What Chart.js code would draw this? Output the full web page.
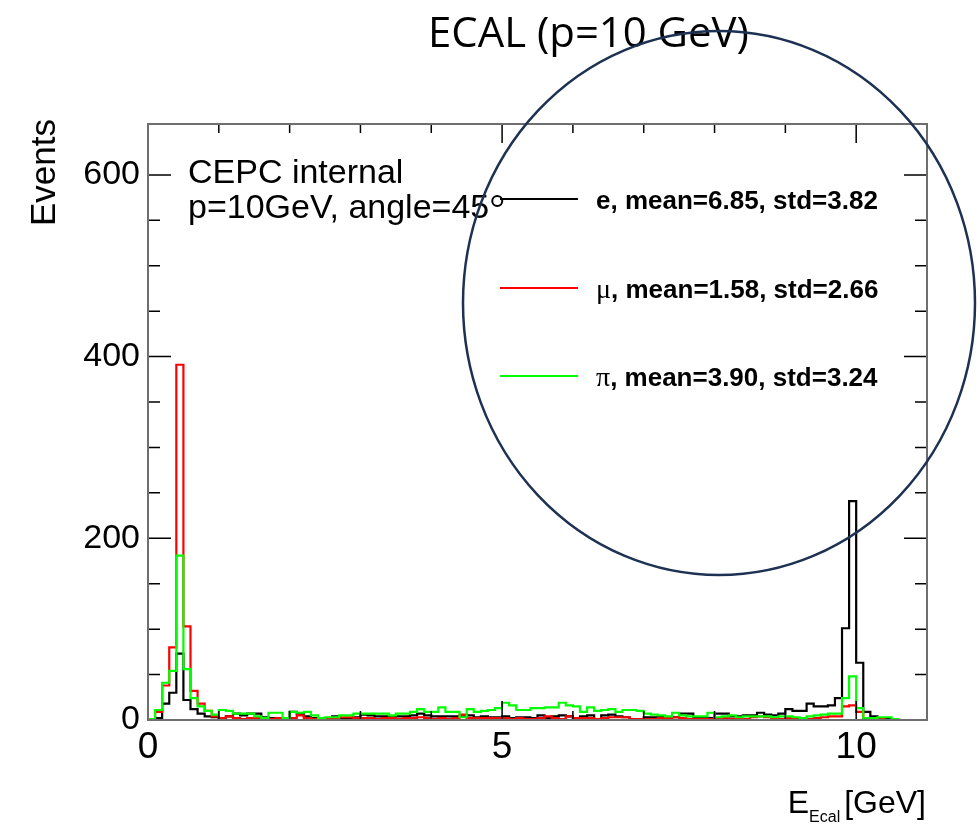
<!DOCTYPE html>
<html>
<head>
<meta charset="utf-8">
<script src="https://cdn.jsdelivr.net/npm/chart.js@4.4.0/dist/chart.umd.min.js"></script>
<style>
  html, body { margin: 0; padding: 0; background: #fff; }
</style>
</head>
<body>
<canvas id="c" width="979" height="828"></canvas>
<script>
"use strict";
// binning of the histograms: 110 bins of 0.1 GeV
var xMin = 0, xMax = 11, binWidth = 0.1;
var yMax = 656;
var xTickLabels = [0, 5, 10];
var yTickLabels = [0, 200, 400, 600];

var eCounts = [
  0, 2, 18, 30, 73, 22, 12, 7, 4, 3,
  2, 4, 7, 5, 7, 7, 3, 2, 2, 2,
  9, 7, 4, 2, 1, 1, 4, 2, 1, 3,
  6, 5, 4, 4, 3, 4, 4, 5, 7, 5,
  4, 4, 4, 4, 4, 5, 3, 4, 3, 3,
  4, 2, 3, 3, 2, 5, 2, 4, 5, 4,
  1, 4, 5, 1, 5, 6, 4, 3, 1, 1,
  3, 3, 4, 2, 3, 7, 7, 3, 2, 2,
  7, 7, 4, 4, 5, 5, 8, 6, 5, 7,
  12, 10, 10, 18, 15, 15, 16, 24, 101, 241,
  63, 9, 4, 2, 1, 0, 0, 0, 0, 0
];
var muCounts = [
  0, 9, 38, 80, 391, 103, 32, 18, 10, 4,
  2, 4, 2, 1, 2, 2, 1, 1, 2, 1,
  2, 5, 2, 1, 1, 2, 2, 3, 3, 2,
  2, 2, 1, 2, 2, 1, 2, 2, 3, 2,
  1, 2, 1, 2, 6, 2, 2, 2, 2, 2,
  2, 1, 2, 1, 1, 2, 4, 2, 1, 4,
  2, 2, 2, 1, 2, 3, 3, 3, 1, 1,
  1, 1, 2, 2, 3, 2, 1, 1, 1, 1,
  2, 2, 1, 1, 1, 3, 4, 3, 2, 1,
  2, 1, 2, 1, 2, 3, 4, 4, 15, 16,
  9, 1, 1, 2, 0, 0, 0, 0, 0, 0
];
var piCounts = [
  1, 11, 41, 54, 181, 56, 24, 15, 10, 6,
  11, 10, 7, 7, 7, 4, 2, 8, 8, 2,
  9, 8, 9, 5, 2, 3, 3, 5, 5, 7,
  7, 7, 7, 7, 5, 7, 7, 9, 12, 9,
  9, 14, 9, 9, 3, 12, 9, 10, 11, 13,
  19, 16, 11, 11, 13, 13, 14, 14, 19, 16,
  15, 9, 14, 10, 11, 12, 9, 11, 11, 10,
  7, 6, 5, 4, 8, 5, 4, 4, 4, 8,
  3, 4, 5, 3, 4, 4, 4, 4, 3, 4,
  4, 3, 2, 4, 5, 6, 7, 7, 24, 48,
  13, 2, 2, 3, 3, 1, 0, 0, 0, 0
];

var seriesLabels = ['e, mean=6.85, std=3.82', 'μ, mean=1.58, std=2.66', 'π, mean=3.90, std=3.24'];
var seriesColors = ['#000000', '#ff0000', '#00ff00'];
var allCounts = [eCounts, muCounts, piCounts];

// outline of a histogram: each point is the left edge of its bin,
// stepped 'before' keeps the level flat until the next edge
function toSteps(counts) {
  var pts = [{x: xMin, y: 0}];
  for (var i = 0; i < counts.length; i++) {
    pts.push({x: xMin + i * binWidth, y: counts[i]});
  }
  pts.push({x: xMin + counts.length * binWidth, y: 0});
  return pts;
}

var SANS = '"Liberation Sans", Arial, sans-serif';
var SERIF = '"Liberation Serif", "Times New Roman", serif';

// ROOT look: frame, ticks on the inside of all four sides, texts, legend, annotation ring
var rootStyle = {
  id: 'rootStyle',
  afterDraw: function (chart) {
    var ctx = chart.ctx, a = chart.chartArea;
    var xs = chart.scales.x, ys = chart.scales.y;
    ctx.save();

    ctx.strokeStyle = '#000';
    ctx.lineWidth = 1.5;
    ctx.beginPath();
    xs.ticks.forEach(function (t) {
      if (Math.abs(t.value - Math.round(t.value)) > 1e-6) return;
      var px = xs.getPixelForValue(t.value);
      var len = t.value % 5 === 0 ? 19 : 9;
      ctx.moveTo(px, a.bottom); ctx.lineTo(px, a.bottom - len);
      ctx.moveTo(px, a.top); ctx.lineTo(px, a.top + len);
    });
    ys.ticks.forEach(function (t) {
      if (t.value % 50 !== 0) return;
      var py = ys.getPixelForValue(t.value);
      var len = t.value % 200 === 0 ? 23 : 12;
      ctx.moveTo(a.left, py); ctx.lineTo(a.left + len, py);
      ctx.moveTo(a.right, py); ctx.lineTo(a.right - len, py);
    });
    ctx.stroke();

    ctx.strokeStyle = '#6e6e6e';
    ctx.lineWidth = 2;
    ctx.strokeRect(a.left, a.top, a.right - a.left, a.bottom - a.top);

    ctx.fillStyle = '#000';
    ctx.textBaseline = 'alphabetic';

    // page title
    ctx.font = '40px "Open Sans", sans-serif';
    var tw = ctx.measureText('ECAL (p=10 GeV)').width;
    ctx.font = (40 * 321 / tw).toFixed(1) + 'px "Open Sans", sans-serif';
    ctx.textAlign = 'left';
    ctx.fillText('ECAL (p=10 GeV)', 428, 47);

    // y axis title
    ctx.save();
    ctx.translate(55, a.top - 5);
    ctx.rotate(-Math.PI / 2);
    ctx.textAlign = 'right';
    ctx.font = '35px ' + SANS;
    ctx.fillText('Events', 0, 0);
    ctx.restore();

    // x axis title E_Ecal [GeV]
    ctx.textAlign = 'left';
    ctx.font = '32px ' + SANS;
    var wE = ctx.measureText('E').width;
    var wRest = ctx.measureText('[GeV]').width;
    var gap = 4;
    ctx.font = '16px ' + SANS;
    var wSub = ctx.measureText('Ecal').width;
    var x0 = a.right - 1 - wE - wSub - gap - wRest;
    ctx.font = '32px ' + SANS;
    ctx.fillText('E', x0, 813);
    ctx.fillText('[GeV]', x0 + wE + wSub + gap, 813);
    ctx.font = '16px ' + SANS;
    ctx.fillText('Ecal', x0 + wE, 822);

    // label texts
    ctx.font = '34px ' + SANS;
    ctx.fillText('CEPC internal', 188, 183);
    ctx.fillText('p=10GeV, angle=45', 188, 218);
    var w45 = ctx.measureText('p=10GeV, angle=45').width;
    ctx.lineWidth = 2;
    ctx.strokeStyle = '#000';
    ctx.beginPath();
    ctx.arc(188 + w45 + 8, 201, 5, 0, Math.PI * 2);
    ctx.stroke();

    // legend
    var legY = [199, 288, 376];
    chart.data.datasets.forEach(function (ds, i) {
      ctx.strokeStyle = ds.borderColor;
      ctx.lineWidth = 2;
      ctx.beginPath();
      ctx.moveTo(500, legY[i]); ctx.lineTo(578, legY[i]);
      ctx.stroke();
      var lab = ds.label, first = lab.charAt(0), rest = lab.slice(1);
      var lx = 596;
      if (first === 'e') {
        ctx.font = 'bold 26px ' + SANS;
      } else {
        ctx.font = '28px ' + SERIF;
      }
      ctx.fillStyle = '#000';
      ctx.fillText(first, lx, legY[i] + 10);
      lx += ctx.measureText(first).width;
      ctx.font = 'bold 26px ' + SANS;
      ctx.fillText(rest, lx, legY[i] + 10);
    });

    // annotation ring drawn over the plot
    ctx.strokeStyle = '#1d3153';
    ctx.lineWidth = 2.5;
    ctx.beginPath();
    ctx.ellipse(719, 303, 256, 272, 0, 0, Math.PI * 2);
    ctx.stroke();

    ctx.restore();
  }
};

var chart = new Chart(document.getElementById('c'), {
  type: 'line',
  data: {
    datasets: allCounts.map(function (counts, i) {
      return {
        label: seriesLabels[i],
        data: toSteps(counts),
        borderColor: seriesColors[i],
        borderWidth: 2.2,
        pointRadius: 0,
        stepped: 'before',
        fill: false,
        order: 3 - i
      };
    })
  },
  options: {
    responsive: false,
    animation: false,
    layout: { padding: { left: 0, top: 124, right: 52, bottom: 0 } },
    plugins: {
      legend: { display: false },
      tooltip: { enabled: false },
      title: { display: false }
    },
    scales: {
      x: {
        type: 'linear',
        min: xMin,
        max: xMax,
        grid: { display: false, drawTicks: false },
        border: { display: false },
        ticks: {
          stepSize: 1,
          autoSkip: false,
          maxRotation: 0,
          padding: 6,
          color: '#000',
          font: { family: SANS, size: 37 },
          callback: function (v) { return xTickLabels.indexOf(v) >= 0 ? String(v) : ''; }
        },
        afterFit: function (s) { s.height = 108; }
      },
      y: {
        type: 'linear',
        min: 0,
        max: yMax,
        grid: { display: false, drawTicks: false },
        border: { display: false },
        ticks: {
          stepSize: 50,
          autoSkip: false,
          padding: 8,
          color: '#000',
          font: { family: SANS, size: 34 },
          callback: function (v) { return yTickLabels.indexOf(v) >= 0 ? String(v) : ''; }
        },
        afterFit: function (s) { s.width = 148; }
      }
    }
  },
  plugins: [rootStyle]
});
</script>
</body>
</html>
